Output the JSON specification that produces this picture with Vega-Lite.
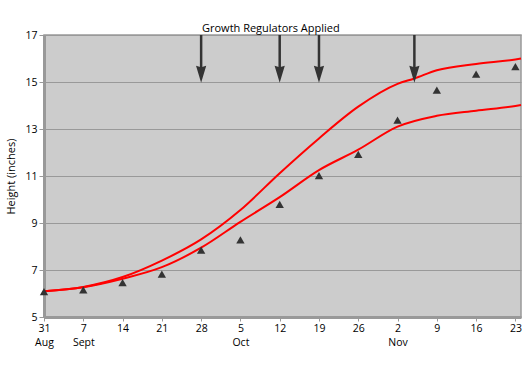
{
  "$schema": "https://vega.github.io/schema/vega-lite/v6.json",
  "width": 477,
  "height": 282,
  "autosize": {"type": "none"},
  "padding": {"left": 44, "top": 35, "right": 4, "bottom": 49},
  "background": "white",
  "title": {
    "text": "Growth Regulators Applied",
    "anchor": "start",
    "frame": "group",
    "dx": 158,
    "offset": -13,
    "baseline": "alphabetic",
    "font": "Open Sans",
    "fontSize": 11,
    "fontWeight": "normal",
    "color": "#000"
  },
  "config": {
    "view": {"fill": "#cccccc", "stroke": "#999999", "strokeWidth": 1.5},
    "axis": {"labelFont": "Open Sans", "titleFont": "Open Sans", "labelColor": "#000", "titleColor": "#000"},
    "axisX": {"labelOverlap": false}
  },
  "datasets": {
    "curves": [
      {"date": "2009-08-31", "series": "upper", "height": 6.1},
      {"date": "2009-09-07", "series": "upper", "height": 6.28},
      {"date": "2009-09-14", "series": "upper", "height": 6.7},
      {"date": "2009-09-21", "series": "upper", "height": 7.4},
      {"date": "2009-09-28", "series": "upper", "height": 8.3},
      {"date": "2009-10-05", "series": "upper", "height": 9.55},
      {"date": "2009-10-12", "series": "upper", "height": 11.12},
      {"date": "2009-10-19", "series": "upper", "height": 12.6},
      {"date": "2009-10-26", "series": "upper", "height": 13.95},
      {"date": "2009-11-02", "series": "upper", "height": 14.92},
      {"date": "2009-11-05", "series": "upper", "height": 15.15},
      {"date": "2009-11-09", "series": "upper", "height": 15.5},
      {"date": "2009-11-16", "series": "upper", "height": 15.77},
      {"date": "2009-11-23", "series": "upper", "height": 15.96},
      {"date": "2009-11-24", "series": "upper", "height": 16.0},
      {"date": "2009-08-31", "series": "lower", "height": 6.1},
      {"date": "2009-09-07", "series": "lower", "height": 6.27},
      {"date": "2009-09-14", "series": "lower", "height": 6.63},
      {"date": "2009-09-21", "series": "lower", "height": 7.12},
      {"date": "2009-09-28", "series": "lower", "height": 7.95},
      {"date": "2009-10-05", "series": "lower", "height": 9.05},
      {"date": "2009-10-12", "series": "lower", "height": 10.1},
      {"date": "2009-10-19", "series": "lower", "height": 11.25},
      {"date": "2009-10-26", "series": "lower", "height": 12.12},
      {"date": "2009-11-02", "series": "lower", "height": 13.1},
      {"date": "2009-11-09", "series": "lower", "height": 13.56},
      {"date": "2009-11-16", "series": "lower", "height": 13.78},
      {"date": "2009-11-23", "series": "lower", "height": 13.98},
      {"date": "2009-11-24", "series": "lower", "height": 14.02}
    ],
    "obs": [
      {"date": "2009-08-31", "height": 6.08},
      {"date": "2009-09-07", "height": 6.15},
      {"date": "2009-09-14", "height": 6.46},
      {"date": "2009-09-21", "height": 6.82},
      {"date": "2009-09-28", "height": 7.85},
      {"date": "2009-10-05", "height": 8.28},
      {"date": "2009-10-12", "height": 9.79},
      {"date": "2009-10-19", "height": 11.02},
      {"date": "2009-10-26", "height": 11.92},
      {"date": "2009-11-02", "height": 13.38},
      {"date": "2009-11-09", "height": 14.65},
      {"date": "2009-11-16", "height": 15.33},
      {"date": "2009-11-23", "height": 15.65}
    ],
    "arrows": [
      {"date": "2009-09-28"},
      {"date": "2009-10-12"},
      {"date": "2009-10-19"},
      {"date": "2009-11-05"}
    ]
  },
  "layer": [
    {
      "data": {"name": "curves"},
      "mark": {"type": "line", "interpolate": "monotone", "color": "#ff0000", "strokeWidth": 2},
      "encoding": {
        "x": {
          "field": "date",
          "type": "temporal",
          "scale": {
            "type": "utc",
            "domain": [1251676800000, 1259020800000]
          },
          "axis": {
            "title": null,
            "grid": false,
            "tickCount": 30,
            "values": [1251676800000, 1252281600000, 1252886400000, 1253491200000, 1254096000000, 1254700800000, 1255305600000, 1255910400000, 1256515200000, 1257120000000, 1257724800000, 1258329600000, 1258934400000],
            "labelExpr": "[utcFormat(datum.value, '%-d'), utcdate(datum.value) == 31 ? 'Aug' : (utcmonth(datum.value) == 8 && utcdate(datum.value) == 7) ? 'Sept' : (utcmonth(datum.value) == 9 && utcdate(datum.value) == 5) ? 'Oct' : (utcmonth(datum.value) == 10 && utcdate(datum.value) == 2) ? 'Nov' : '']",
            "labelFontSize": 10.5,
            "labelLineHeight": 14,
            "labelOverlap": false,
            "labelBound": false,
            "labelFlush": false,
            "labelPadding": 2,
            "tickSize": 4,
            "tickColor": "#999999",
            "domainColor": "#999999",
            "domainWidth": 3
          }
        },
        "y": {
          "field": "height",
          "type": "quantitative",
          "scale": {"domain": [5, 17], "nice": false, "zero": false},
          "axis": {
            "title": "Height (inches)",
            "titleFontSize": 11,
            "titleFontWeight": "normal",
            "titlePadding": 8,
            "values": [5, 7, 9, 11, 13, 15, 17],
            "format": "d",
            "labelFontSize": 10.5,
            "labelPadding": 2,
            "tickSize": 5,
            "tickColor": "#999999",
            "gridColor": "#999999",
            "gridOpacity": 1,
            "gridWidth": 1,
            "domainColor": "#999999",
            "domainWidth": 3
          }
        },
        "detail": {"field": "series"}
      }
    },
    {
      "data": {"name": "obs"},
      "mark": {"type": "point", "shape": "triangle-up", "filled": true, "color": "#333333", "opacity": 1, "size": 70},
      "encoding": {
        "x": {"field": "date", "type": "temporal"},
        "y": {"field": "height", "type": "quantitative"}
      }
    },
    {
      "data": {"name": "arrows"},
      "mark": {"type": "rule", "color": "#333333", "strokeWidth": 2.5},
      "encoding": {
        "x": {"field": "date", "type": "temporal"},
        "y": {"datum": 17},
        "y2": {"datum": 15.4}
      }
    },
    {
      "data": {"name": "arrows"},
      "mark": {"type": "point", "shape": "M0,1L-0.6,-1L0,-0.82L0.6,-1Z", "filled": true, "color": "#333333", "opacity": 1, "size": 289},
      "encoding": {
        "x": {"field": "date", "type": "temporal"},
        "y": {"datum": 15.33}
      }
    }
  ]
}
